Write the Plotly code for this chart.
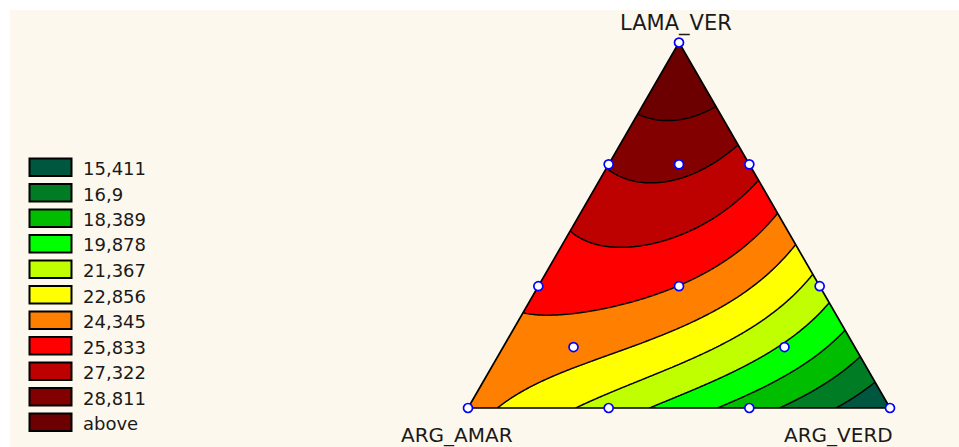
import numpy as np
import plotly.graph_objects as go

# ---------------- data ----------------
# mixture design points (fractions of ARG_AMAR, ARG_VERD, LAMA_VER) and response
comp_amar = [1.0, 0.0, 0.0, 2/3, 1/3, 2/3, 1/3, 0.0, 0.0, 1/3, 2/3, 1/6, 1/6]
comp_verd = [0.0, 1.0, 0.0, 1/3, 2/3, 0.0, 0.0, 2/3, 1/3, 1/3, 1/6, 2/3, 1/6]
comp_lama = [0.0, 0.0, 1.0, 0.0, 0.0, 1/3, 2/3, 1/3, 2/3, 1/3, 1/6, 1/6, 2/3]
response  = [23.4, 13.85, 31.0, 20.74, 17.67, 24.83, 27.34, 20.82, 26.43, 24.35, 23.4, 19.6, 27.8]

levels = [15.411, 16.9, 18.389, 19.878, 21.367, 22.856, 24.345, 25.833, 27.322, 28.811]
legend_labels = ["15,411", "16,9", "18,389", "19,878", "21,367", "22,856",
                 "24,345", "25,833", "27,322", "28,811", "above"]
band_colors = ["#00573f", "#007d24", "#00bd00", "#00ff00", "#bfff00", "#ffff00",
               "#ff7f00", "#ff0000", "#bd0000", "#820000", "#6c0000"]
vertex_names = ["ARG_AMAR", "ARG_VERD", "LAMA_VER"]

# ---------------- full cubic Scheffe model fitted to the design ----------------
def terms(a, b, c):
    a = np.asarray(a, float); b = np.asarray(b, float); c = np.asarray(c, float)
    return np.stack([a, b, c, a*b, a*c, b*c,
                     a*b*(a-b), a*c*(a-c), b*c*(b-c), a*b*c], axis=-1)

X = terms(comp_amar, comp_verd, comp_lama)
coef, *_ = np.linalg.lstsq(X, np.asarray(response), rcond=None)

S = np.sqrt(3) / 2
gx = np.linspace(0, 1, 421)
gy = np.linspace(0, S, 366)
GX, GY = np.meshgrid(gx, gy)
C = GY / S
B = GX - C / 2
A = 1 - B - C
Z = terms(A, B, C) @ coef

def to_xy(a, b, c):
    a = np.asarray(a, float); b = np.asarray(b, float); c = np.asarray(c, float)
    return b + c / 2, c * S

step = (levels[-1] - levels[0]) / (len(levels) - 1)
cscale = [[i / (len(band_colors) - 1), col] for i, col in enumerate(band_colors)]

BG = "#fdf8ed"
fig = go.Figure()
fig.add_trace(go.Contour(
    x=gx, y=gy, z=Z,
    contours=dict(start=levels[0], end=levels[-1], size=step, coloring="fill"),
    colorscale=cscale, showscale=False,
    line=dict(color="black", width=1.5, smoothing=0),
    hoverinfo="skip",
))

# masks outside the triangle
e = 0.05
fig.add_trace(go.Scatter(x=[0, 0.5, 0.5, -e, -e, 0], y=[0, S, S + e, S + e, 0, 0],
                         fill="toself", fillcolor=BG, line=dict(width=0),
                         mode="lines", hoverinfo="skip", showlegend=False))
fig.add_trace(go.Scatter(x=[1, 0.5, 0.5, 1 + e, 1 + e, 1], y=[0, S, S + e, S + e, 0, 0],
                         fill="toself", fillcolor=BG, line=dict(width=0),
                         mode="lines", hoverinfo="skip", showlegend=False))
# triangle outline
tx, ty = to_xy([1, 0, 0, 1], [0, 1, 0, 0], [0, 0, 1, 0])
fig.add_trace(go.Scatter(x=tx, y=ty, mode="lines", line=dict(color="black", width=1.7),
                         hoverinfo="skip", showlegend=False))
# design points
px_, py_ = to_xy(comp_amar, comp_verd, comp_lama)
fig.add_trace(go.Scatter(x=px_, y=py_, mode="markers",
                         marker=dict(symbol="circle", size=9, color="white",
                                     line=dict(color="#0000ff", width=1.7)),
                         hoverinfo="skip", showlegend=False))

# ---------------- layout (pixel helpers) ----------------
W, H, ML, MT = 959, 447, 10, 10
X0, Y0, SIDE = 468, 408, 422

def fx(p):
    return (p - ML) / (W - ML)

def fy(p):
    return (H - p) / (H - MT)

shapes = []
annotations = []
for i, (lab, col) in enumerate(zip(legend_labels, band_colors)):
    top = 158.5 + 25.5 * i
    shapes.append(dict(type="rect", xref="paper", yref="paper",
                       x0=fx(29.5), x1=fx(71.5), y0=fy(top + 17.5), y1=fy(top),
                       fillcolor=col, line=dict(color="black", width=2)))
    annotations.append(dict(text=lab, xref="paper", yref="paper",
                            x=fx(81), y=fy(top + 10), xanchor="left", yanchor="middle",
                            showarrow=False,
                            font=dict(family="DejaVu Sans", size=18, color="#1a1a1a")))

lab_font = dict(family="DejaVu Sans", size=20, color="#1a1a1a")
annotations.append(dict(text=vertex_names[2], xref="paper", yref="paper", x=fx(676), y=fy(23),
                        xanchor="center", yanchor="middle", showarrow=False,
                        font=dict(family="DejaVu Sans", size=21, color="#1a1a1a")))
annotations.append(dict(text=vertex_names[0], xref="paper", yref="paper", x=fx(457), y=fy(435),
                        xanchor="center", yanchor="middle", showarrow=False, font=lab_font))
annotations.append(dict(text=vertex_names[1], xref="paper", yref="paper", x=fx(838), y=fy(435),
                        xanchor="center", yanchor="middle", showarrow=False, font=lab_font))

fig.update_layout(
    width=W, height=H,
    margin=dict(l=ML, r=0, t=MT, b=0, pad=0),
    paper_bgcolor="white", plot_bgcolor=BG,
    xaxis=dict(range=[(ML - X0) / SIDE, (W - X0) / SIDE], visible=False, fixedrange=True),
    yaxis=dict(range=[(Y0 - H) / SIDE, (Y0 - MT) / SIDE], visible=False, fixedrange=True),
    shapes=shapes, annotations=annotations, showlegend=False,
)
fig.write_html("out.html")
